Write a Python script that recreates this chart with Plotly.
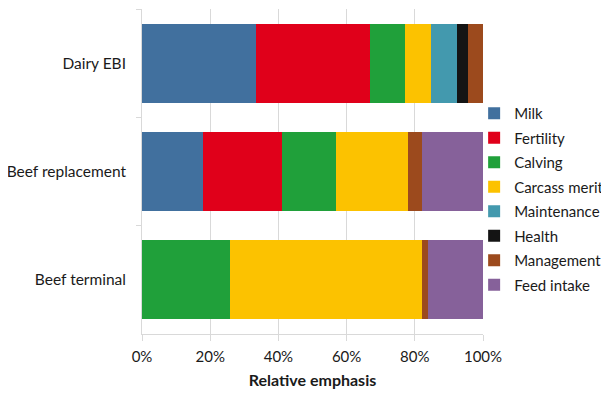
import plotly.graph_objects as go

categories = ["Dairy EBI", "Beef replacement", "Beef terminal"]
series_names = ["Milk", "Fertility", "Calving", "Carcass merit", "Maintenance",
                "Health", "Management", "Feed intake"]
milk = [33.4, 18.0, 0]
fertility = [33.5, 23.0, 0]
calving = [10.2, 16.0, 25.8]
carcass_merit = [7.7, 21.1, 56.4]
maintenance = [7.5, 0, 0]
health = [3.2, 0, 0]
management = [4.5, 4.1, 1.8]
feed_intake = [0, 17.8, 16.0]
colors = ["#41709e", "#e0001a", "#20a03a", "#fcc200", "#4399ae",
          "#141414", "#9c4a1d", "#86619a"]
x_ticks = [0, 20, 40, 60, 80, 100]
x_tick_labels = ["0%", "20%", "40%", "60%", "80%", "100%"]

values = [milk, fertility, calving, carcass_merit, maintenance, health,
          management, feed_intake]

FONT = "Lato, Open Sans, sans-serif"
fig = go.Figure()
for name, vals, col in zip(series_names, values, colors):
    fig.add_trace(go.Bar(
        y=categories, x=vals, name=name, orientation="h",
        marker=dict(color=col, line=dict(width=0)),
        legendgroup=name,
        hoverinfo="x+y+name",
    ))

fig.update_layout(
    width=601, height=390,
    barmode="stack", bargap=0.27,
    paper_bgcolor="white", plot_bgcolor="white",
    margin=dict(l=134, r=126, t=1, b=64, autoexpand=False),
    font=dict(family=FONT, size=15, color="#1a1a1a"),
    legend=dict(
        x=0.974, y=0.729, xanchor="left", yanchor="top",
        traceorder="grouped", font=dict(size=15),
        tracegroupgap=2, itemwidth=30,
        bgcolor="rgba(0,0,0,0)",
    ),
    xaxis=dict(
        range=[0, 100], tickvals=x_ticks, ticktext=x_tick_labels,
        showgrid=True, gridcolor="#d9d9d9", gridwidth=1,
        ticks="outside", ticklen=6, tickcolor="#d9d9d9",
        showline=True, linecolor="#d9d9d9", zeroline=False,
        tickfont=dict(size=15), ticklabelstandoff=3,
        title=dict(text="<b>Relative emphasis</b>", font=dict(size=16), standoff=10),
    ),
    yaxis=dict(
        categoryorder="array", categoryarray=categories, autorange="reversed",
        showline=True, linecolor="#d9d9d9",
        ticks="outside", tickson="boundaries", ticklen=5, tickcolor="#d9d9d9",
        showgrid=False, tickfont=dict(size=15.5), ticksuffix="   ",
    ),
)

fig.write_html("out.html")
